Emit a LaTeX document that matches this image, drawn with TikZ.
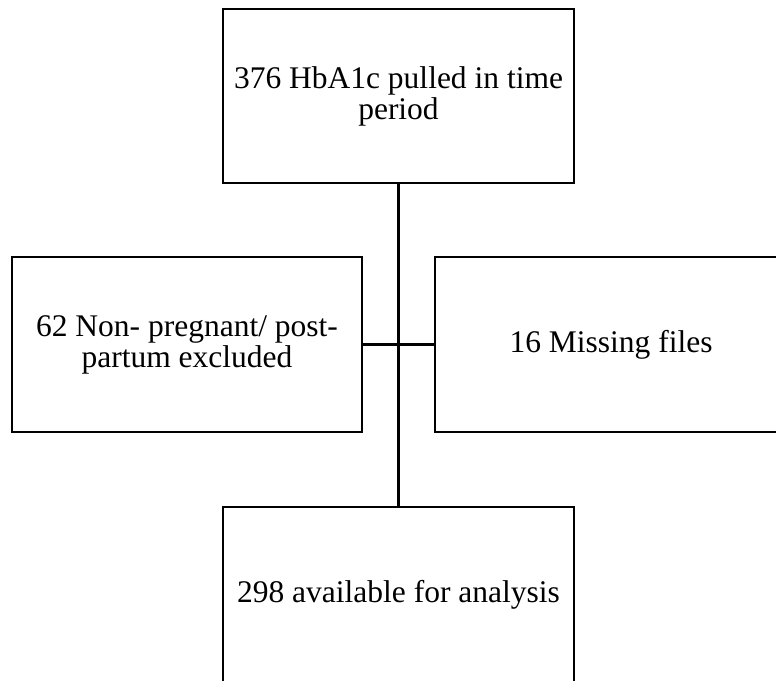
\documentclass[tikz,border=0pt]{standalone}
\usepackage{fontspec}
\setmainfont{Liberation Serif}
\usetikzlibrary{positioning}

\begin{document}
\begin{tikzpicture}[x=1pt, y=-1pt, line width=2.4pt,
        box/.style={draw, rectangle, align=center, inner sep=0pt,
            font=\fontsize{31.5}{31}\selectfont,
            minimum width=351pt, minimum height=174pt}]
        \useasboundingbox (0,0) rectangle (776,680);
        \node[box] (pulled) at (398.5,96) {376 HbA1c pulled in time\\period};
        \node[box, minimum width=350pt, minimum height=175pt] (nonpreg) at (187,344.5) {62 Non- pregnant/ post-\\partum excluded};
        \node[box, minimum width=352pt, minimum height=175pt] (missing) at (611,344.5) {16 Missing files};
        \node[box, minimum height=176pt] (analysis) at (398.5,595) {298 available for analysis};
        \path[draw]
        (pulled) -- (analysis)
        (nonpreg) -- (missing)
        ;
    \end{tikzpicture}
\end{document}
